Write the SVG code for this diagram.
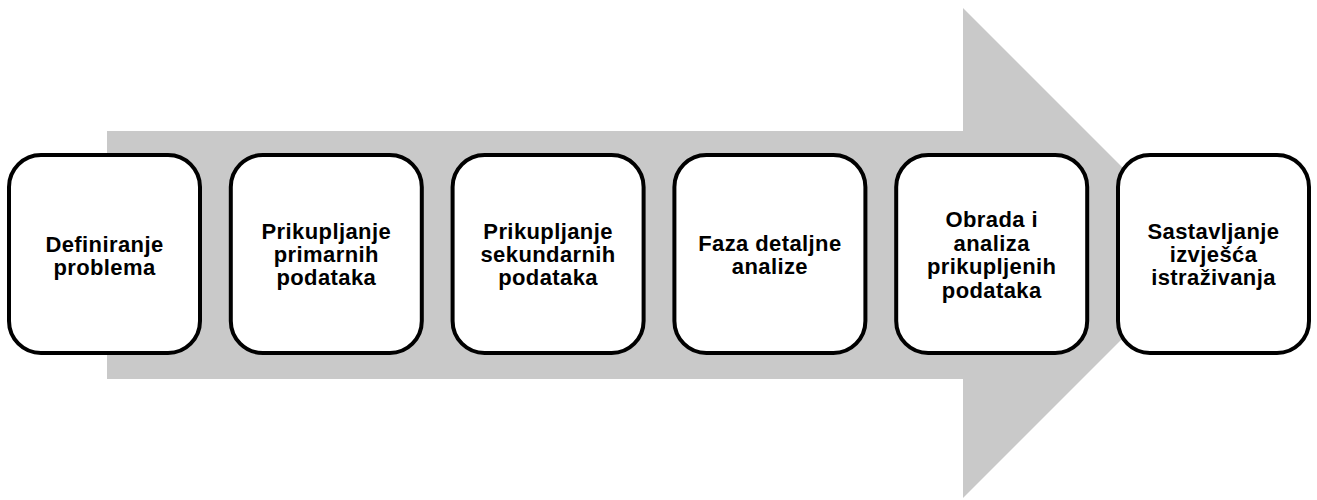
<svg xmlns="http://www.w3.org/2000/svg" width="1317" height="500" viewBox="0 0 1317 500">
<style>
.box{fill:#ffffff;stroke:#000000;stroke-width:4}
.lbl{font-family:"Liberation Sans",Arial,sans-serif;font-weight:bold;font-size:22px;letter-spacing:0.4px;fill:#000000;text-anchor:middle}
</style>
<rect width="1317" height="500" fill="#ffffff"/>
<g id="connectors">
<polygon points="107,131 963,131 963,8 1208,253 963,498 963,379 107,379" fill="#c9c9c9"/>
</g>
<g id="n1"><rect class="box" x="9" y="155" width="191" height="198" rx="32"/>
<text class="lbl"><tspan x="104.5" y="251.5">Definiranje</tspan><tspan x="104.5" y="274.5">problema</tspan></text></g>
<g id="n2"><rect class="box" x="230.8" y="155" width="191" height="198" rx="32"/>
<text class="lbl"><tspan x="326.3" y="238.5">Prikupljanje</tspan><tspan x="326.3" y="261.5">primarnih</tspan><tspan x="326.3" y="284.5">podataka</tspan></text></g>
<g id="n3"><rect class="box" x="452.6" y="155" width="191" height="198" rx="32"/>
<text class="lbl"><tspan x="548.1" y="238.5">Prikupljanje</tspan><tspan x="548.1" y="261.5">sekundarnih</tspan><tspan x="548.1" y="284.5">podataka</tspan></text></g>
<g id="n4"><rect class="box" x="674.4" y="155" width="191" height="198" rx="32"/>
<text class="lbl"><tspan x="769.9" y="250.5">Faza detaljne</tspan><tspan x="769.9" y="273.5">analize</tspan></text></g>
<g id="n5"><rect class="box" x="896.2" y="155" width="191" height="198" rx="32"/>
<text class="lbl"><tspan x="991.7" y="227">Obrada i</tspan><tspan x="991.7" y="250.5">analiza</tspan><tspan x="991.7" y="274">prikupljenih</tspan><tspan x="991.7" y="297.5">podataka</tspan></text></g>
<g id="n6"><rect class="box" x="1118" y="155" width="191" height="198" rx="32"/>
<text class="lbl"><tspan x="1213.5" y="238.5">Sastavljanje</tspan><tspan x="1213.5" y="261.5">izvješća</tspan><tspan x="1213.5" y="284.5">istraživanja</tspan></text></g>
</svg>
